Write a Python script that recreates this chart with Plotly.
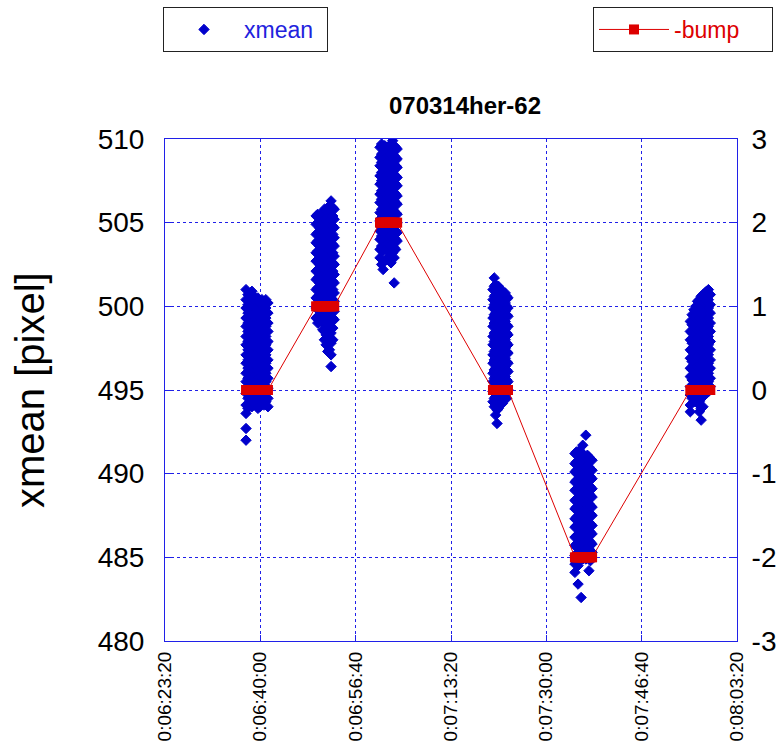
import plotly.graph_objects as go

# ---------------- data ----------------
x_tick_vals = [23000, 24000, 25000, 26000, 27000, 28000, 29000]
x_tick_text = ["0:06:23:20", "0:06:40:00", "0:06:56:40", "0:07:13:20",
               "0:07:30:00", "0:07:46:40", "0:08:03:20"]
y_left_ticks = [480, 485, 490, 495, 500, 505, 510]
y_right_ticks = [-3, -2, -1, 0, 1, 2, 3]
y_right_text = ["-3", "-2", "-1", "0", "1", "2", "3"]

# each group of frames: sample times (s) and xmean values read for each time column
c1_times = [23850, 23870, 23890, 23912, 23933, 23955, 23975, 23995, 24017, 24038, 24058, 24080]
c1_xmean = [
    [501.0, 500.4, 499.9, 499.3, 498.8, 498.2, 497.7, 497.1, 496.6, 496.0, 495.5, 494.8, 494.1, 493.6, 492.7, 492.0],
    [500.7, 500.1, 499.6, 499.0, 498.5, 497.9, 497.4, 496.8, 496.3, 495.7, 495.1, 494.5, 493.9],
    [500.4, 499.8, 499.2, 498.7, 498.1, 497.6, 497.0, 496.5, 495.9, 495.4, 494.8, 494.2],
    [500.9, 500.3, 499.7, 499.1, 498.6, 498.0, 497.5, 496.9, 496.4, 495.8, 495.2, 494.6, 494.0],
    [500.6, 500.0, 499.5, 498.9, 498.4, 497.8, 497.3, 496.7, 496.2, 495.6, 495.0, 494.4],
    [500.3, 499.7, 499.2, 498.6, 498.1, 497.5, 497.0, 496.4, 495.9, 495.3, 494.7, 494.1],
    [500.5, 499.9, 499.4, 498.8, 498.3, 497.7, 497.2, 496.6, 496.1, 495.5, 494.9, 494.3, 493.9],
    [500.2, 499.6, 499.1, 498.5, 498.0, 497.4, 496.9, 496.3, 495.8, 495.2, 494.6, 494.0],
    [500.4, 499.8, 499.3, 498.7, 498.2, 497.6, 497.1, 496.5, 496.0, 495.4, 494.8, 494.2],
    [500.3, 499.7, 499.2, 498.6, 498.0, 497.5, 496.9, 496.4, 495.8, 495.3, 494.7, 494.1],
    [500.4, 499.9, 499.3, 498.8, 498.2, 497.7, 497.1, 496.6, 496.0, 495.5, 494.9, 494.3],
    [500.2, 499.6, 499.0, 498.5, 497.9, 497.4, 496.8, 496.3, 495.7, 495.1, 494.5, 494.0],
]
c1_bump = 0

c2_times = [24585, 24602, 24620, 24637, 24655, 24672, 24690, 24707, 24725, 24742, 24760, 24775]
c2_xmean = [
    [505.4, 504.9, 504.3, 503.8, 503.2, 502.7, 502.1, 501.6, 501.0, 500.5, 499.9, 499.3],
    [505.5, 505.0, 504.4, 503.9, 503.3, 502.8, 502.2, 501.7, 501.1, 500.6, 500.0, 499.4, 499.0],
    [505.3, 504.7, 504.2, 503.6, 503.1, 502.5, 502.0, 501.4, 500.9, 500.3, 499.8, 499.3],
    [504.9, 504.4, 503.8, 503.3, 502.7, 502.2, 501.6, 501.1, 500.5, 500.0, 499.4],
    [505.6, 505.1, 504.5, 504.0, 503.4, 502.9, 502.3, 501.8, 501.2, 500.7, 500.1, 499.6, 499.0, 498.6],
    [505.8, 505.2, 504.7, 504.1, 503.6, 503.0, 502.5, 501.9, 501.4, 500.8, 500.3, 499.7, 499.1, 498.5, 498.0],
    [505.7, 505.1, 504.6, 504.0, 503.5, 502.9, 502.4, 501.8, 501.3, 500.7, 500.2, 499.6, 499.0, 498.3, 497.7],
    [505.9, 505.3, 504.8, 504.2, 503.7, 503.1, 502.6, 502.0, 501.5, 500.9, 500.4, 499.8, 499.2, 498.6, 497.9, 497.3],
    [506.0, 505.5, 504.9, 504.4, 503.8, 503.3, 502.7, 502.2, 501.6, 501.1, 500.5, 500.0, 499.4, 498.8, 498.1, 497.4],
    [506.3, 505.7, 505.2, 504.6, 504.1, 503.5, 503.0, 502.4, 501.9, 501.3, 500.8, 500.2, 499.7, 499.1, 498.4, 497.8, 497.1, 496.4],
    [505.9, 505.4, 504.8, 504.3, 503.7, 503.2, 502.6, 502.1, 501.5, 501.0, 500.4, 499.9, 499.3, 498.7, 498.0],
    [505.8, 505.2, 504.7, 504.1, 503.6, 503.0, 502.5, 501.9, 501.4, 500.8, 500.3, 499.7, 499.2],
]
c2_bump = 1

c3_times = [25255, 25272, 25288, 25305, 25321, 25338, 25355, 25371, 25388, 25404, 25420, 25435]
c3_xmean = [
    [509.5, 508.9, 508.4, 507.8, 507.3, 506.7, 506.2, 505.6, 505.1, 504.5, 504.0, 503.4, 502.9],
    [509.7, 509.1, 508.6, 508.0, 507.5, 506.9, 506.4, 505.8, 505.3, 504.7, 504.2, 503.6, 502.5],
    [509.4, 508.8, 508.3, 507.7, 507.2, 506.6, 506.1, 505.5, 505.0, 504.4, 503.9, 503.3, 502.2],
    [509.6, 509.0, 508.5, 507.9, 507.4, 506.8, 506.3, 505.7, 505.2, 504.6, 504.1, 503.5],
    [509.5, 508.9, 508.4, 507.8, 507.3, 506.7, 506.2, 505.6, 505.1, 504.5, 504.0, 503.4, 502.8],
    [509.3, 508.7, 508.2, 507.6, 507.1, 506.5, 506.0, 505.4, 504.9, 504.3, 503.8, 503.3],
    [509.6, 509.0, 508.5, 507.9, 507.4, 506.8, 506.3, 505.7, 505.2, 504.6, 504.1, 503.6, 503.0],
    [509.7, 509.1, 508.6, 508.0, 507.5, 506.9, 506.4, 505.8, 505.3, 504.7, 504.2, 503.6, 502.6],
    [509.9, 509.3, 508.8, 508.2, 507.7, 507.1, 506.6, 506.0, 505.5, 504.9, 504.4, 503.8, 503.2],
    [509.6, 509.0, 508.5, 507.9, 507.4, 506.8, 506.3, 505.7, 505.2, 504.6, 504.1, 503.5, 502.9, 501.4],
    [509.5, 508.9, 508.4, 507.8, 507.3, 506.7, 506.2, 505.6, 505.1, 504.5, 504.0, 503.4],
    [509.4, 508.8, 508.3, 507.7, 507.2, 506.6, 506.1, 505.5, 505.0, 504.4, 503.9],
]
c3_bump = 2

c4_times = [26440, 26454, 26468, 26483, 26497, 26511, 26526, 26540, 26555, 26569, 26584, 26598]
c4_xmean = [
    [501.0, 500.4, 499.9, 499.3, 498.8, 498.2, 497.7, 497.1, 496.6, 496.0, 495.5, 494.9, 494.3],
    [501.7, 501.2, 500.6, 500.1, 499.5, 499.0, 498.4, 497.9, 497.3, 496.8, 496.2, 495.7, 495.1, 494.5, 494.0],
    [501.3, 500.7, 500.2, 499.6, 499.1, 498.5, 498.0, 497.4, 496.9, 496.3, 495.8, 495.2, 494.6, 494.1, 493.5],
    [501.1, 500.5, 500.0, 499.4, 498.9, 498.3, 497.8, 497.2, 496.7, 496.1, 495.6, 495.0, 494.4, 493.8, 493.0],
    [501.2, 500.6, 500.1, 499.5, 499.0, 498.4, 497.9, 497.3, 496.8, 496.2, 495.7, 495.1, 494.5, 493.9],
    [500.9, 500.3, 499.8, 499.2, 498.7, 498.1, 497.6, 497.0, 496.5, 495.9, 495.4, 494.8, 494.2],
    [501.0, 500.4, 499.9, 499.3, 498.8, 498.2, 497.7, 497.1, 496.6, 496.0, 495.5, 494.9, 494.3],
    [500.8, 500.2, 499.7, 499.1, 498.6, 498.0, 497.5, 496.9, 496.4, 495.8, 495.3, 494.7, 494.2],
    [500.7, 500.1, 499.6, 499.0, 498.5, 497.9, 497.4, 496.8, 496.3, 495.7, 495.2, 494.6],
    [500.8, 500.2, 499.7, 499.1, 498.6, 498.0, 497.5, 496.9, 496.4, 495.8, 495.3, 494.7],
    [500.6, 500.0, 499.5, 498.9, 498.4, 497.8, 497.3, 496.7, 496.2, 495.6, 495.1, 494.5],
    [500.5, 499.9, 499.4, 498.8, 498.3, 497.7, 497.2, 496.6, 496.1, 495.5, 495.0],
]
c4_bump = 0

c5_times = [27300, 27316, 27333, 27349, 27365, 27382, 27398, 27414, 27431, 27447, 27463, 27480]
c5_xmean = [
    [491.2, 490.6, 490.1, 489.5, 489.0, 488.4, 487.9, 487.3, 486.8, 486.2, 485.7, 485.1, 484.6, 484.1],
    [491.3, 490.7, 490.2, 489.6, 489.1, 488.5, 488.0, 487.4, 486.9, 486.3, 485.8, 485.2, 484.7],
    [491.1, 490.5, 490.0, 489.4, 488.9, 488.3, 487.8, 487.2, 486.7, 486.1, 485.6, 485.0, 484.5, 483.4],
    [491.4, 490.8, 490.3, 489.7, 489.2, 488.6, 488.1, 487.5, 487.0, 486.4, 485.9, 485.3, 484.8],
    [491.2, 490.6, 490.1, 489.5, 489.0, 488.4, 487.9, 487.3, 486.8, 486.2, 485.7, 485.1, 482.6],
    [491.7, 491.0, 490.4, 489.9, 489.3, 488.8, 488.2, 487.7, 487.1, 486.6, 486.0, 485.5, 484.9],
    [491.1, 490.5, 490.0, 489.4, 488.9, 488.3, 487.8, 487.2, 486.7, 486.1, 485.6, 485.0],
    [492.3, 491.0, 490.4, 489.9, 489.3, 488.8, 488.2, 487.7, 487.1, 486.6, 486.0, 485.5, 484.9],
    [491.1, 490.5, 490.0, 489.4, 488.9, 488.3, 487.8, 487.2, 486.7, 486.1, 485.6, 485.0],
    [491.0, 490.4, 489.9, 489.3, 488.8, 488.2, 487.7, 487.1, 486.6, 486.0, 485.5, 484.9, 484.2],
    [490.9, 490.3, 489.8, 489.2, 488.7, 488.1, 487.6, 487.0, 486.5, 485.9, 485.4, 484.8],
    [490.8, 490.2, 489.7, 489.1, 488.6, 488.0, 487.5, 486.9, 486.4, 485.8, 485.3],
]
c5_bump = -2

c6_times = [28510, 28529, 28548, 28567, 28586, 28605, 28624, 28643, 28662, 28681, 28700, 28720]
c6_xmean = [
    [499.1, 498.5, 498.0, 497.4, 496.9, 496.3, 495.8, 495.2, 494.7, 494.1, 493.7],
    [499.5, 498.9, 498.4, 497.8, 497.3, 496.7, 496.2, 495.6, 495.1, 494.5],
    [499.8, 499.2, 498.7, 498.1, 497.6, 497.0, 496.5, 495.9, 495.4, 494.8, 494.3],
    [500.0, 499.4, 498.9, 498.3, 497.8, 497.2, 496.7, 496.1, 495.6, 495.0, 494.5],
    [500.3, 499.7, 499.2, 498.6, 498.1, 497.5, 497.0, 496.4, 495.9, 495.3, 494.8, 494.2],
    [500.4, 499.8, 499.3, 498.7, 498.2, 497.6, 497.1, 496.5, 496.0, 495.4, 494.9, 494.3, 493.7],
    [500.6, 500.0, 499.5, 498.9, 498.4, 497.8, 497.3, 496.7, 496.2, 495.6, 495.1, 494.5, 493.9, 493.2],
    [500.7, 500.1, 499.6, 499.0, 498.5, 497.9, 497.4, 496.8, 496.3, 495.7, 495.2, 494.6, 494.0],
    [500.8, 500.2, 499.7, 499.1, 498.6, 498.0, 497.5, 496.9, 496.4, 495.8, 495.3, 494.7],
    [500.9, 500.3, 499.8, 499.2, 498.7, 498.1, 497.6, 497.0, 496.5, 495.9, 495.4, 494.8],
    [501.0, 500.4, 499.9, 499.3, 498.8, 498.2, 497.7, 497.1, 496.6, 496.0, 495.5, 494.9],
    [500.7, 500.1, 499.6, 499.0, 498.5, 497.9, 497.4, 496.8, 496.3, 495.7, 495.2],
]
c6_bump = 0

groups = [
    (c1_times, c1_xmean, c1_bump),
    (c2_times, c2_xmean, c2_bump),
    (c3_times, c3_xmean, c3_bump),
    (c4_times, c4_xmean, c4_bump),
    (c5_times, c5_xmean, c5_bump),
    (c6_times, c6_xmean, c6_bump),
]

# ---------------- build traces ----------------
xm_x, xm_y, bp_x, bp_y = [], [], [], []
for times, cols, bump in groups:
    for t, col in zip(times, cols):
        for v in col:
            xm_x.append(t)
            xm_y.append(v)
        bp_x.append(t)
        bp_y.append(bump)

BLUE = "#0000cc"
AXIS = "#2020e8"
RED = "#dd0000"
FONT = "Liberation Sans, Arial, sans-serif"

fig = go.Figure()
fig.add_trace(go.Scatter(
    x=xm_x, y=xm_y, mode="markers", name="xmean",
    marker=dict(symbol="diamond", size=8, color=BLUE, line=dict(width=1, color=BLUE)),
    legend="legend", yaxis="y",
))
fig.add_trace(go.Scatter(
    x=bp_x, y=bp_y, mode="lines+markers", name="-bump",
    line=dict(color=RED, width=1),
    marker=dict(symbol="square", size=10, color=RED, line=dict(width=0)),
    legend="legend2", yaxis="y2",
))

fig.update_layout(
    width=780, height=742,
    margin=dict(l=165, r=43, t=139, b=101, autoexpand=False),
    paper_bgcolor="white", plot_bgcolor="white",
    font=dict(family=FONT, color="black"),
    title=dict(text="<b>070314her-62</b>", x=465 / 780, xref="container",
               xanchor="center", y=1 - 106 / 742, yref="container", yanchor="middle",
               font=dict(size=24, color="black", family=FONT)),
    xaxis=dict(
        range=[23000, 29000], tickvals=x_tick_vals, ticktext=x_tick_text,
        tickangle=-90, tickfont=dict(size=19, color="black"),
        ticks="inside", ticklen=6, tickcolor=AXIS,
        showline=True, linecolor=AXIS, linewidth=1, mirror=True,
        showgrid=True, gridcolor=AXIS, griddash="dot", gridwidth=1,
        zeroline=False, ticklabelstandoff=2, automargin=False,
    ),
    yaxis=dict(
        range=[480, 510], tickvals=y_left_ticks,
        tickfont=dict(size=28, color="black"),
        ticks="inside", ticklen=6, tickcolor=AXIS,
        showline=True, linecolor=AXIS, linewidth=1, mirror=True,
        showgrid=True, gridcolor=AXIS, griddash="dot", gridwidth=1,
        zeroline=False, ticklabelstandoff=14, automargin=False,
    ),
    yaxis2=dict(
        range=[-3, 3], tickvals=y_right_ticks, ticktext=y_right_text,
        overlaying="y", side="right",
        tickfont=dict(size=28, color="black"),
        ticks="inside", ticklen=6, tickcolor=AXIS,
        showline=True, linecolor=AXIS, linewidth=1,
        showgrid=False, zeroline=False, ticklabelstandoff=8, automargin=False,
    ),
    legend=dict(
        x=163 / 780, y=1 - 7 / 742, xref="container", yref="container",
        xanchor="left", yanchor="top", bgcolor="white",
        bordercolor="#222222", borderwidth=1, itemwidth=70,
        orientation="h", entrywidth=78,
        font=dict(size=23, color="#2222dd", family=FONT),
    ),
    legend2=dict(
        x=593 / 780, y=1 - 7 / 742, xref="container", yref="container",
        xanchor="left", yanchor="top", bgcolor="white",
        bordercolor="#222222", borderwidth=1, itemwidth=70,
        orientation="h", entrywidth=93,
        font=dict(size=23, color=RED, family=FONT),
    ),
    annotations=[dict(
        text="xmean [pixel]", textangle=-90, showarrow=False,
        x=(30 - 165) / 572, xref="paper", y=0.5, yref="paper",
        xanchor="center", yanchor="middle",
        font=dict(size=40, color="black", family=FONT),
    )],
    showlegend=True,
)

fig.write_html("out.html")
